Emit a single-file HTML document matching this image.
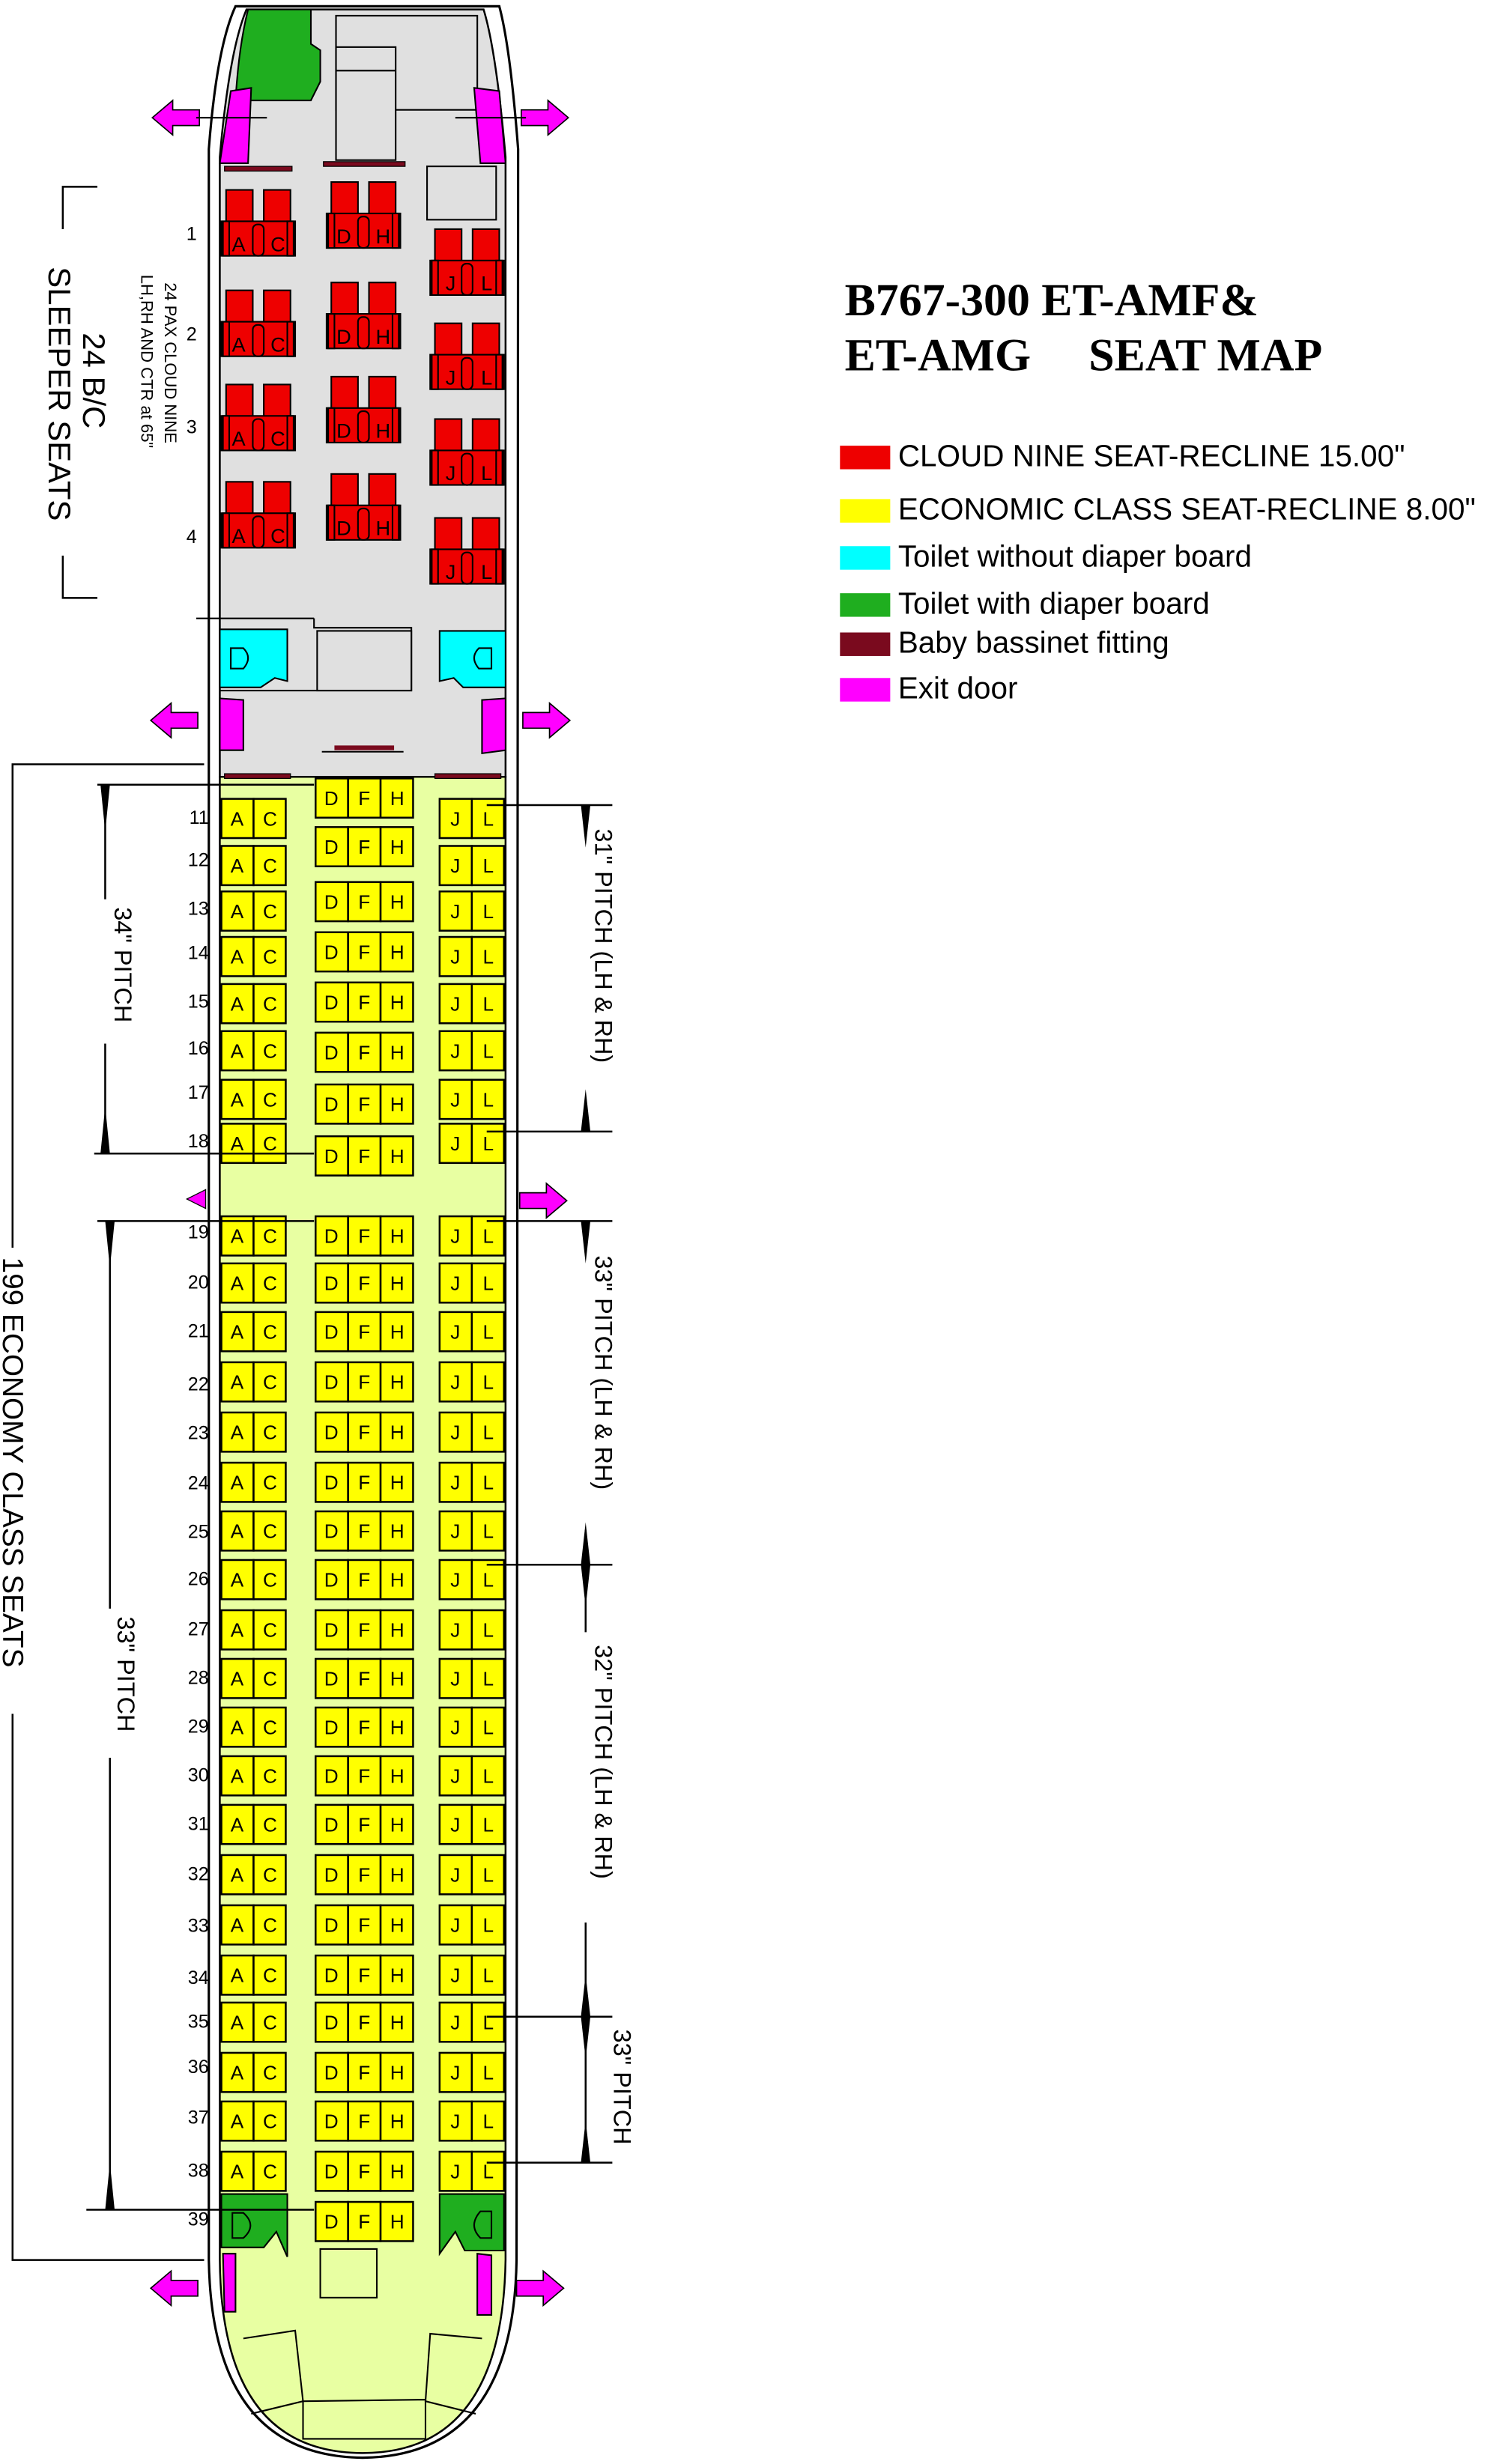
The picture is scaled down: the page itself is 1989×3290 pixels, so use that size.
<!DOCTYPE html>
<html><head><meta charset="utf-8"><style>
html,body{margin:0;padding:0;background:#fff}
svg{display:block}
text{font-family:"Liberation Sans",sans-serif}
</style></head><body>
<svg width="1989" height="3290" viewBox="0 0 949 1570" preserveAspectRatio="none" xmlns="http://www.w3.org/2000/svg">
<defs>
<g id="acjl" stroke="#000" stroke-width="1.2" fill="#ffff00">
<rect x="141" y="-12" width="20.5" height="25"/><rect x="161.5" y="-12" width="20.5" height="25"/>
<rect x="280" y="-12" width="20.5" height="25"/><rect x="300.5" y="-12" width="20.5" height="25"/>
</g>
<g id="dfh" stroke="#000" stroke-width="1.2" fill="#ffff00">
<rect x="201" y="-12" width="20.7" height="25"/><rect x="221.7" y="-12" width="20.7" height="25"/><rect x="242.4" y="-12" width="20.7" height="25"/>
</g>
<g id="bs" stroke="#000" stroke-width="1" fill="#ee0000">
<rect x="3" y="0" width="17" height="26"/><rect x="27" y="0" width="17" height="26"/>
<rect x="0" y="20" width="47" height="22"/>
<rect x="1" y="20" width="4" height="22"/><rect x="42" y="20" width="4" height="22"/>
<rect x="20" y="22" width="7" height="20" rx="3"/>
</g>
<g id="arL" fill="#ff00ff" stroke="#000" stroke-width="0.8"><path d="M0,0 L13,-11 L13,-5 L30,-5 L30,5 L13,5 L13,11 Z"/></g>
<g id="arR" fill="#ff00ff" stroke="#000" stroke-width="0.8"><path d="M0,0 L-13,-11 L-13,-5 L-30,-5 L-30,5 L-13,5 L-13,11 Z"/></g>
</defs>

<!-- fuselage -->
<path d="M150,4 Q138,30 133,95 L133,1440 Q135,1565 231,1566 Q327,1565 329,1440 L330,95 Q325,30 318,4 Z" fill="#fff" stroke="#000" stroke-width="1.5"/>
<path d="M157,6 Q146,32 140,100 L140,495 L322,495 L322,100 Q316,32 308,6 Z" fill="#e0e0e0" stroke="#000" stroke-width="1.2"/>
<path d="M140,495 L140,1440 Q141,1563 231,1563 Q320,1563 322,1440 L322,495 Z" fill="#e8ffa2" stroke="#000" stroke-width="1.2"/>

<!-- top galley / lav -->
<path d="M158,6 L198,6 L198,28 L204,32 L204,52 L198,64 L150,64 Q152,30 158,6 Z" fill="#1fae1f" stroke="#000"/>
<rect x="214" y="10" width="90" height="60" fill="#e0e0e0" stroke="#000"/>
<rect x="214" y="30" width="38" height="72" fill="#e0e0e0" stroke="#000"/>
<line x1="214" y1="45" x2="252" y2="45" stroke="#000"/>
<rect x="272" y="106" width="44" height="34" fill="#e0e0e0" stroke="#000"/>
<path d="M147,58 L160,56 L158,104 L140,104 Z" fill="#ff00ff" stroke="#000"/>
<path d="M302,56 L318,58 L322,104 L306,104 Z" fill="#ff00ff" stroke="#000"/>
<use href="#arL" x="97" y="75"/><line x1="125" y1="75" x2="170" y2="75" stroke="#000"/>
<use href="#arR" x="362" y="75"/><line x1="290" y1="75" x2="335" y2="75" stroke="#000"/>
<rect x="143" y="106" width="43" height="3" fill="#7a0a1e" stroke="#000" stroke-width="0.6"/>
<rect x="206" y="103" width="52" height="3" fill="#7a0a1e" stroke="#000" stroke-width="0.6"/>

<!-- business seats -->
<g font-size="13" text-anchor="middle">
<g transform="translate(141,121)"><use href="#bs"/><text x="11" y="39">A</text><text x="36" y="39">C</text></g>
<g transform="translate(208,116)"><use href="#bs"/><text x="11" y="39">D</text><text x="36" y="39">H</text></g>
<g transform="translate(274,146)"><use href="#bs"/><text x="13" y="39">J</text><text x="36" y="39">L</text></g>
<g transform="translate(141,185)"><use href="#bs"/><text x="11" y="39">A</text><text x="36" y="39">C</text></g>
<g transform="translate(208,180)"><use href="#bs"/><text x="11" y="39">D</text><text x="36" y="39">H</text></g>
<g transform="translate(274,206)"><use href="#bs"/><text x="13" y="39">J</text><text x="36" y="39">L</text></g>
<g transform="translate(141,245)"><use href="#bs"/><text x="11" y="39">A</text><text x="36" y="39">C</text></g>
<g transform="translate(208,240)"><use href="#bs"/><text x="11" y="39">D</text><text x="36" y="39">H</text></g>
<g transform="translate(274,267)"><use href="#bs"/><text x="13" y="39">J</text><text x="36" y="39">L</text></g>
<g transform="translate(141,307)"><use href="#bs"/><text x="11" y="39">A</text><text x="36" y="39">C</text></g>
<g transform="translate(208,302)"><use href="#bs"/><text x="11" y="39">D</text><text x="36" y="39">H</text></g>
<g transform="translate(274,330)"><use href="#bs"/><text x="13" y="39">J</text><text x="36" y="39">L</text></g>
</g>
<g font-size="12" text-anchor="middle"><text x="122" y="153">1</text><text x="122" y="217">2</text><text x="122" y="276">3</text><text x="122" y="346">4</text></g>

<!-- mid lavs -->
<line x1="125" y1="394" x2="200" y2="394" stroke="#000"/>
<path d="M200,394 L200,400 L262,400 L262,440 L140,440" fill="none" stroke="#000"/>
<rect x="202" y="402" width="60" height="38" fill="#e0e0e0" stroke="#000"/>
<path d="M140,401 L183,401 L183,434 L175,432 L166,438 L140,438 Z" fill="#00ffff" stroke="#000"/>
<path d="M280,402 L322,402 L322,438 L295,438 L289,432 L280,434 Z" fill="#00ffff" stroke="#000"/>
<path d="M147,413 L155,413 Q161,419 155,426 L147,426 Z" fill="none" stroke="#000"/>
<path d="M313,413 L305,413 Q299,419 305,426 L313,426 Z" fill="none" stroke="#000"/>
<path d="M140,445 L155,446 L155,478 L140,478 Z" fill="#ff00ff" stroke="#000"/>
<path d="M307,446 L322,445 L322,478 L307,480 Z" fill="#ff00ff" stroke="#000"/>
<use href="#arL" x="96" y="459"/>
<use href="#arR" x="363" y="459"/>
<rect x="213" y="475" width="38" height="3" fill="#7a0a1e"/><line x1="205" y1="479" x2="257" y2="479" stroke="#000"/>
<rect x="143" y="493" width="42" height="3" fill="#7a0a1e" stroke="#000" stroke-width="0.6"/>
<rect x="277" y="493" width="42" height="3" fill="#7a0a1e" stroke="#000" stroke-width="0.6"/>

<!-- economy seats -->
<g font-size="12.5" text-anchor="middle">
<g transform="translate(0,521)"><use href="#acjl"/><text x="151 172 290 311" y="5">ACJL</text></g>
<g transform="translate(0,551)"><use href="#acjl"/><text x="151 172 290 311" y="5">ACJL</text></g>
<g transform="translate(0,580)"><use href="#acjl"/><text x="151 172 290 311" y="5">ACJL</text></g>
<g transform="translate(0,609)"><use href="#acjl"/><text x="151 172 290 311" y="5">ACJL</text></g>
<g transform="translate(0,639)"><use href="#acjl"/><text x="151 172 290 311" y="5">ACJL</text></g>
<g transform="translate(0,669)"><use href="#acjl"/><text x="151 172 290 311" y="5">ACJL</text></g>
<g transform="translate(0,700)"><use href="#acjl"/><text x="151 172 290 311" y="5">ACJL</text></g>
<g transform="translate(0,728)"><use href="#acjl"/><text x="151 172 290 311" y="5">ACJL</text></g>
<g transform="translate(0,787)"><use href="#acjl"/><text x="151 172 290 311" y="5">ACJL</text></g>
<g transform="translate(0,817)"><use href="#acjl"/><text x="151 172 290 311" y="5">ACJL</text></g>
<g transform="translate(0,848)"><use href="#acjl"/><text x="151 172 290 311" y="5">ACJL</text></g>
<g transform="translate(0,880)"><use href="#acjl"/><text x="151 172 290 311" y="5">ACJL</text></g>
<g transform="translate(0,912)"><use href="#acjl"/><text x="151 172 290 311" y="5">ACJL</text></g>
<g transform="translate(0,944)"><use href="#acjl"/><text x="151 172 290 311" y="5">ACJL</text></g>
<g transform="translate(0,975)"><use href="#acjl"/><text x="151 172 290 311" y="5">ACJL</text></g>
<g transform="translate(0,1006)"><use href="#acjl"/><text x="151 172 290 311" y="5">ACJL</text></g>
<g transform="translate(0,1038)"><use href="#acjl"/><text x="151 172 290 311" y="5">ACJL</text></g>
<g transform="translate(0,1069)"><use href="#acjl"/><text x="151 172 290 311" y="5">ACJL</text></g>
<g transform="translate(0,1100)"><use href="#acjl"/><text x="151 172 290 311" y="5">ACJL</text></g>
<g transform="translate(0,1131)"><use href="#acjl"/><text x="151 172 290 311" y="5">ACJL</text></g>
<g transform="translate(0,1162)"><use href="#acjl"/><text x="151 172 290 311" y="5">ACJL</text></g>
<g transform="translate(0,1194)"><use href="#acjl"/><text x="151 172 290 311" y="5">ACJL</text></g>
<g transform="translate(0,1226)"><use href="#acjl"/><text x="151 172 290 311" y="5">ACJL</text></g>
<g transform="translate(0,1258)"><use href="#acjl"/><text x="151 172 290 311" y="5">ACJL</text></g>
<g transform="translate(0,1288)"><use href="#acjl"/><text x="151 172 290 311" y="5">ACJL</text></g>
<g transform="translate(0,1320)"><use href="#acjl"/><text x="151 172 290 311" y="5">ACJL</text></g>
<g transform="translate(0,1351)"><use href="#acjl"/><text x="151 172 290 311" y="5">ACJL</text></g>
<g transform="translate(0,1383)"><use href="#acjl"/><text x="151 172 290 311" y="5">ACJL</text></g>

<g transform="translate(0,508)"><use href="#dfh"/><text x="211 232 253" y="5">DFH</text></g>
<g transform="translate(0,539)"><use href="#dfh"/><text x="211 232 253" y="5">DFH</text></g>
<g transform="translate(0,574)"><use href="#dfh"/><text x="211 232 253" y="5">DFH</text></g>
<g transform="translate(0,606)"><use href="#dfh"/><text x="211 232 253" y="5">DFH</text></g>
<g transform="translate(0,638)"><use href="#dfh"/><text x="211 232 253" y="5">DFH</text></g>
<g transform="translate(0,670)"><use href="#dfh"/><text x="211 232 253" y="5">DFH</text></g>
<g transform="translate(0,703)"><use href="#dfh"/><text x="211 232 253" y="5">DFH</text></g>
<g transform="translate(0,736)"><use href="#dfh"/><text x="211 232 253" y="5">DFH</text></g>
<g transform="translate(0,787)"><use href="#dfh"/><text x="211 232 253" y="5">DFH</text></g>
<g transform="translate(0,817)"><use href="#dfh"/><text x="211 232 253" y="5">DFH</text></g>
<g transform="translate(0,848)"><use href="#dfh"/><text x="211 232 253" y="5">DFH</text></g>
<g transform="translate(0,880)"><use href="#dfh"/><text x="211 232 253" y="5">DFH</text></g>
<g transform="translate(0,912)"><use href="#dfh"/><text x="211 232 253" y="5">DFH</text></g>
<g transform="translate(0,944)"><use href="#dfh"/><text x="211 232 253" y="5">DFH</text></g>
<g transform="translate(0,975)"><use href="#dfh"/><text x="211 232 253" y="5">DFH</text></g>
<g transform="translate(0,1006)"><use href="#dfh"/><text x="211 232 253" y="5">DFH</text></g>
<g transform="translate(0,1038)"><use href="#dfh"/><text x="211 232 253" y="5">DFH</text></g>
<g transform="translate(0,1069)"><use href="#dfh"/><text x="211 232 253" y="5">DFH</text></g>
<g transform="translate(0,1100)"><use href="#dfh"/><text x="211 232 253" y="5">DFH</text></g>
<g transform="translate(0,1131)"><use href="#dfh"/><text x="211 232 253" y="5">DFH</text></g>
<g transform="translate(0,1162)"><use href="#dfh"/><text x="211 232 253" y="5">DFH</text></g>
<g transform="translate(0,1194)"><use href="#dfh"/><text x="211 232 253" y="5">DFH</text></g>
<g transform="translate(0,1226)"><use href="#dfh"/><text x="211 232 253" y="5">DFH</text></g>
<g transform="translate(0,1258)"><use href="#dfh"/><text x="211 232 253" y="5">DFH</text></g>
<g transform="translate(0,1288)"><use href="#dfh"/><text x="211 232 253" y="5">DFH</text></g>
<g transform="translate(0,1320)"><use href="#dfh"/><text x="211 232 253" y="5">DFH</text></g>
<g transform="translate(0,1351)"><use href="#dfh"/><text x="211 232 253" y="5">DFH</text></g>
<g transform="translate(0,1383)"><use href="#dfh"/><text x="211 232 253" y="5">DFH</text></g>
<g transform="translate(0,1415)"><use href="#dfh"/><text x="211 232 253" y="5">DFH</text></g>
</g>
<g font-size="12" text-anchor="end">
<text x="133" y="525">11</text><text x="133" y="552">12</text><text x="133" y="583">13</text><text x="133" y="611">14</text><text x="133" y="642">15</text><text x="133" y="672">16</text><text x="133" y="700">17</text><text x="133" y="731">18</text>
<text x="133" y="789">19</text><text x="133" y="821">20</text><text x="133" y="852">21</text><text x="133" y="886">22</text><text x="133" y="917">23</text><text x="133" y="949">24</text><text x="133" y="980">25</text><text x="133" y="1010">26</text><text x="133" y="1042">27</text><text x="133" y="1073">28</text><text x="133" y="1104">29</text><text x="133" y="1135">30</text><text x="133" y="1166">31</text><text x="133" y="1198">32</text><text x="133" y="1231">33</text><text x="133" y="1264">34</text><text x="133" y="1292">35</text><text x="133" y="1321">36</text><text x="133" y="1353">37</text><text x="133" y="1387">38</text><text x="133" y="1418">39</text>
</g>

<!-- rear lavs -->
<path d="M141,1398 L183,1398 L183,1438 L176,1422 L168,1432 L141,1432 Z" fill="#1fae1f" stroke="#000"/>
<path d="M280,1398 L321,1398 L321,1434 L296,1434 L290,1422 L280,1436 Z" fill="#1fae1f" stroke="#000"/>
<path d="M148,1410 L155,1410 Q164,1418 155,1426 L148,1426 Z" fill="none" stroke="#000"/>
<path d="M313,1409 L306,1409 Q298,1418 306,1426 L313,1426 Z" fill="none" stroke="#000"/>
<rect x="204" y="1433" width="36" height="31" fill="#e8ffa2" stroke="#000"/>
<path d="M142,1436 L150,1436 L150,1473 L143,1473 Z" fill="#ff00ff" stroke="#000"/>
<path d="M304,1436 L313,1437 L313,1475 L304,1475 Z" fill="#ff00ff" stroke="#000"/>
<use href="#arL" x="96" y="1458"/>
<use href="#arR" x="359" y="1458"/>
<path d="M155,1490 L188,1485 L193,1530 L160,1538" fill="none" stroke="#000"/>
<path d="M307,1490 L274,1487 L271,1530 L303,1538" fill="none" stroke="#000"/>
<path d="M193,1530 L271,1529 L271,1554 L193,1554 Z" fill="none" stroke="#000"/>

<path d="M119,764 L131,758 L131,770 Z" fill="#ff00ff" stroke="#000" stroke-width="0.6"/>
<use href="#arR" x="361" y="765"/>

<!-- business annotation -->
<path d="M62,119 L40,119 L40,146 M40,354 L40,381 L62,381" fill="none" stroke="#000" stroke-width="1.2"/>
<text transform="translate(31,170) rotate(90)" font-size="20">SLEEPER SEATS</text>
<text transform="translate(53,212) rotate(90)" font-size="20">24 B/C</text>
<text transform="translate(105,180) rotate(90)" font-size="10.5">24 PAX CLOUD NINE</text>
<text transform="translate(90,175) rotate(90)" font-size="10.5">LH,RH AND CTR at 65"</text>

<!-- economy bracket -->
<path d="M130,487 L8,487 L8,1440 L130,1440" fill="none" stroke="#000" stroke-width="1.2"/>
<rect x="0" y="795" width="16" height="297" fill="#fff"/>
<text transform="translate(2,801) rotate(90)" font-size="18.5">199 ECONOMY CLASS SEATS</text>

<!-- pitch arrows -->
<g stroke="#000" stroke-width="1.2" fill="none">
<line x1="62" y1="500" x2="200" y2="500"/><line x1="60" y1="735" x2="200" y2="735"/>
<line x1="67" y1="500" x2="67" y2="573"/><line x1="67" y1="665" x2="67" y2="735"/>
<line x1="62" y1="778" x2="200" y2="778"/><line x1="55" y1="1408" x2="200" y2="1408"/>
<line x1="70" y1="778" x2="70" y2="1025"/><line x1="70" y1="1120" x2="70" y2="1408"/>
<line x1="310" y1="513" x2="390" y2="513"/><line x1="310" y1="721" x2="390" y2="721"/>
<line x1="373" y1="513" x2="373" y2="525"/><line x1="373" y1="700" x2="373" y2="721"/>
<line x1="310" y1="778" x2="390" y2="778"/><line x1="310" y1="997" x2="390" y2="997"/>
<line x1="373" y1="778" x2="373" y2="795"/><line x1="373" y1="975" x2="373" y2="997"/>
<line x1="373" y1="997" x2="373" y2="1040"/><line x1="373" y1="1225" x2="373" y2="1285"/>
<line x1="310" y1="1285" x2="390" y2="1285"/><line x1="310" y1="1378" x2="390" y2="1378"/>
<line x1="373" y1="1285" x2="373" y2="1378"/>
</g>
<g fill="#000">
<path d="M64,500 L70,500 L67,530 Z"/><path d="M64,735 L70,735 L67,705 Z"/>
<path d="M67,778 L73,778 L70,808 Z"/><path d="M67,1408 L73,1408 L70,1378 Z"/>
<path d="M370,513 L376,513 L373,540 Z"/><path d="M370,721 L376,721 L373,694 Z"/>
<path d="M370,778 L376,778 L373,805 Z"/><path d="M370,997 L376,997 L373,970 Z"/>
<path d="M370,997 L376,997 L373,1024 Z"/><path d="M370,1285 L376,1285 L373,1258 Z"/>
<path d="M370,1285 L376,1285 L373,1312 Z"/><path d="M370,1378 L376,1378 L373,1351 Z"/>
</g>
<g font-size="15.5">
<text transform="translate(73,578) rotate(90)">34" PITCH</text>
<text transform="translate(75,1030) rotate(90)">33" PITCH</text>
<text transform="translate(379,528) rotate(90)">31" PITCH (LH &amp; RH)</text>
<text transform="translate(379,800) rotate(90)">33" PITCH (LH &amp; RH)</text>
<text transform="translate(379,1048) rotate(90)">32" PITCH (LH &amp; RH)</text>
<text transform="translate(391,1293) rotate(90)">33" PITCH</text>
</g>

<!-- title & legend -->
<g font-weight="bold" font-size="29.5">
<text x="538" y="201" style="font-family:'Liberation Serif',serif">B767-300 ET-AMF&amp;</text>
<text x="538" y="236" style="font-family:'Liberation Serif',serif" xml:space="preserve">ET-AMG     SEAT MAP</text>
</g>
<rect x="535" y="284" width="32" height="15" fill="#ee0000"/>
<rect x="535" y="318" width="32" height="15" fill="#ffff00"/>
<rect x="535" y="348" width="32" height="15" fill="#00ffff"/>
<rect x="535" y="378" width="32" height="15" fill="#1fae1f"/>
<rect x="535" y="403" width="32" height="15" fill="#7a0a1e"/>
<rect x="535" y="432" width="32" height="15" fill="#ff00ff"/>
<g font-size="19.3">
<text x="572" y="297">CLOUD NINE SEAT-RECLINE 15.00"</text>
<text x="572" y="331">ECONOMIC CLASS SEAT-RECLINE 8.00"</text>
<text x="572" y="361">Toilet without diaper board</text>
<text x="572" y="391">Toilet with diaper board</text>
<text x="572" y="416">Baby bassinet fitting</text>
<text x="572" y="445">Exit door</text>
</g>
</svg>
</body></html>
